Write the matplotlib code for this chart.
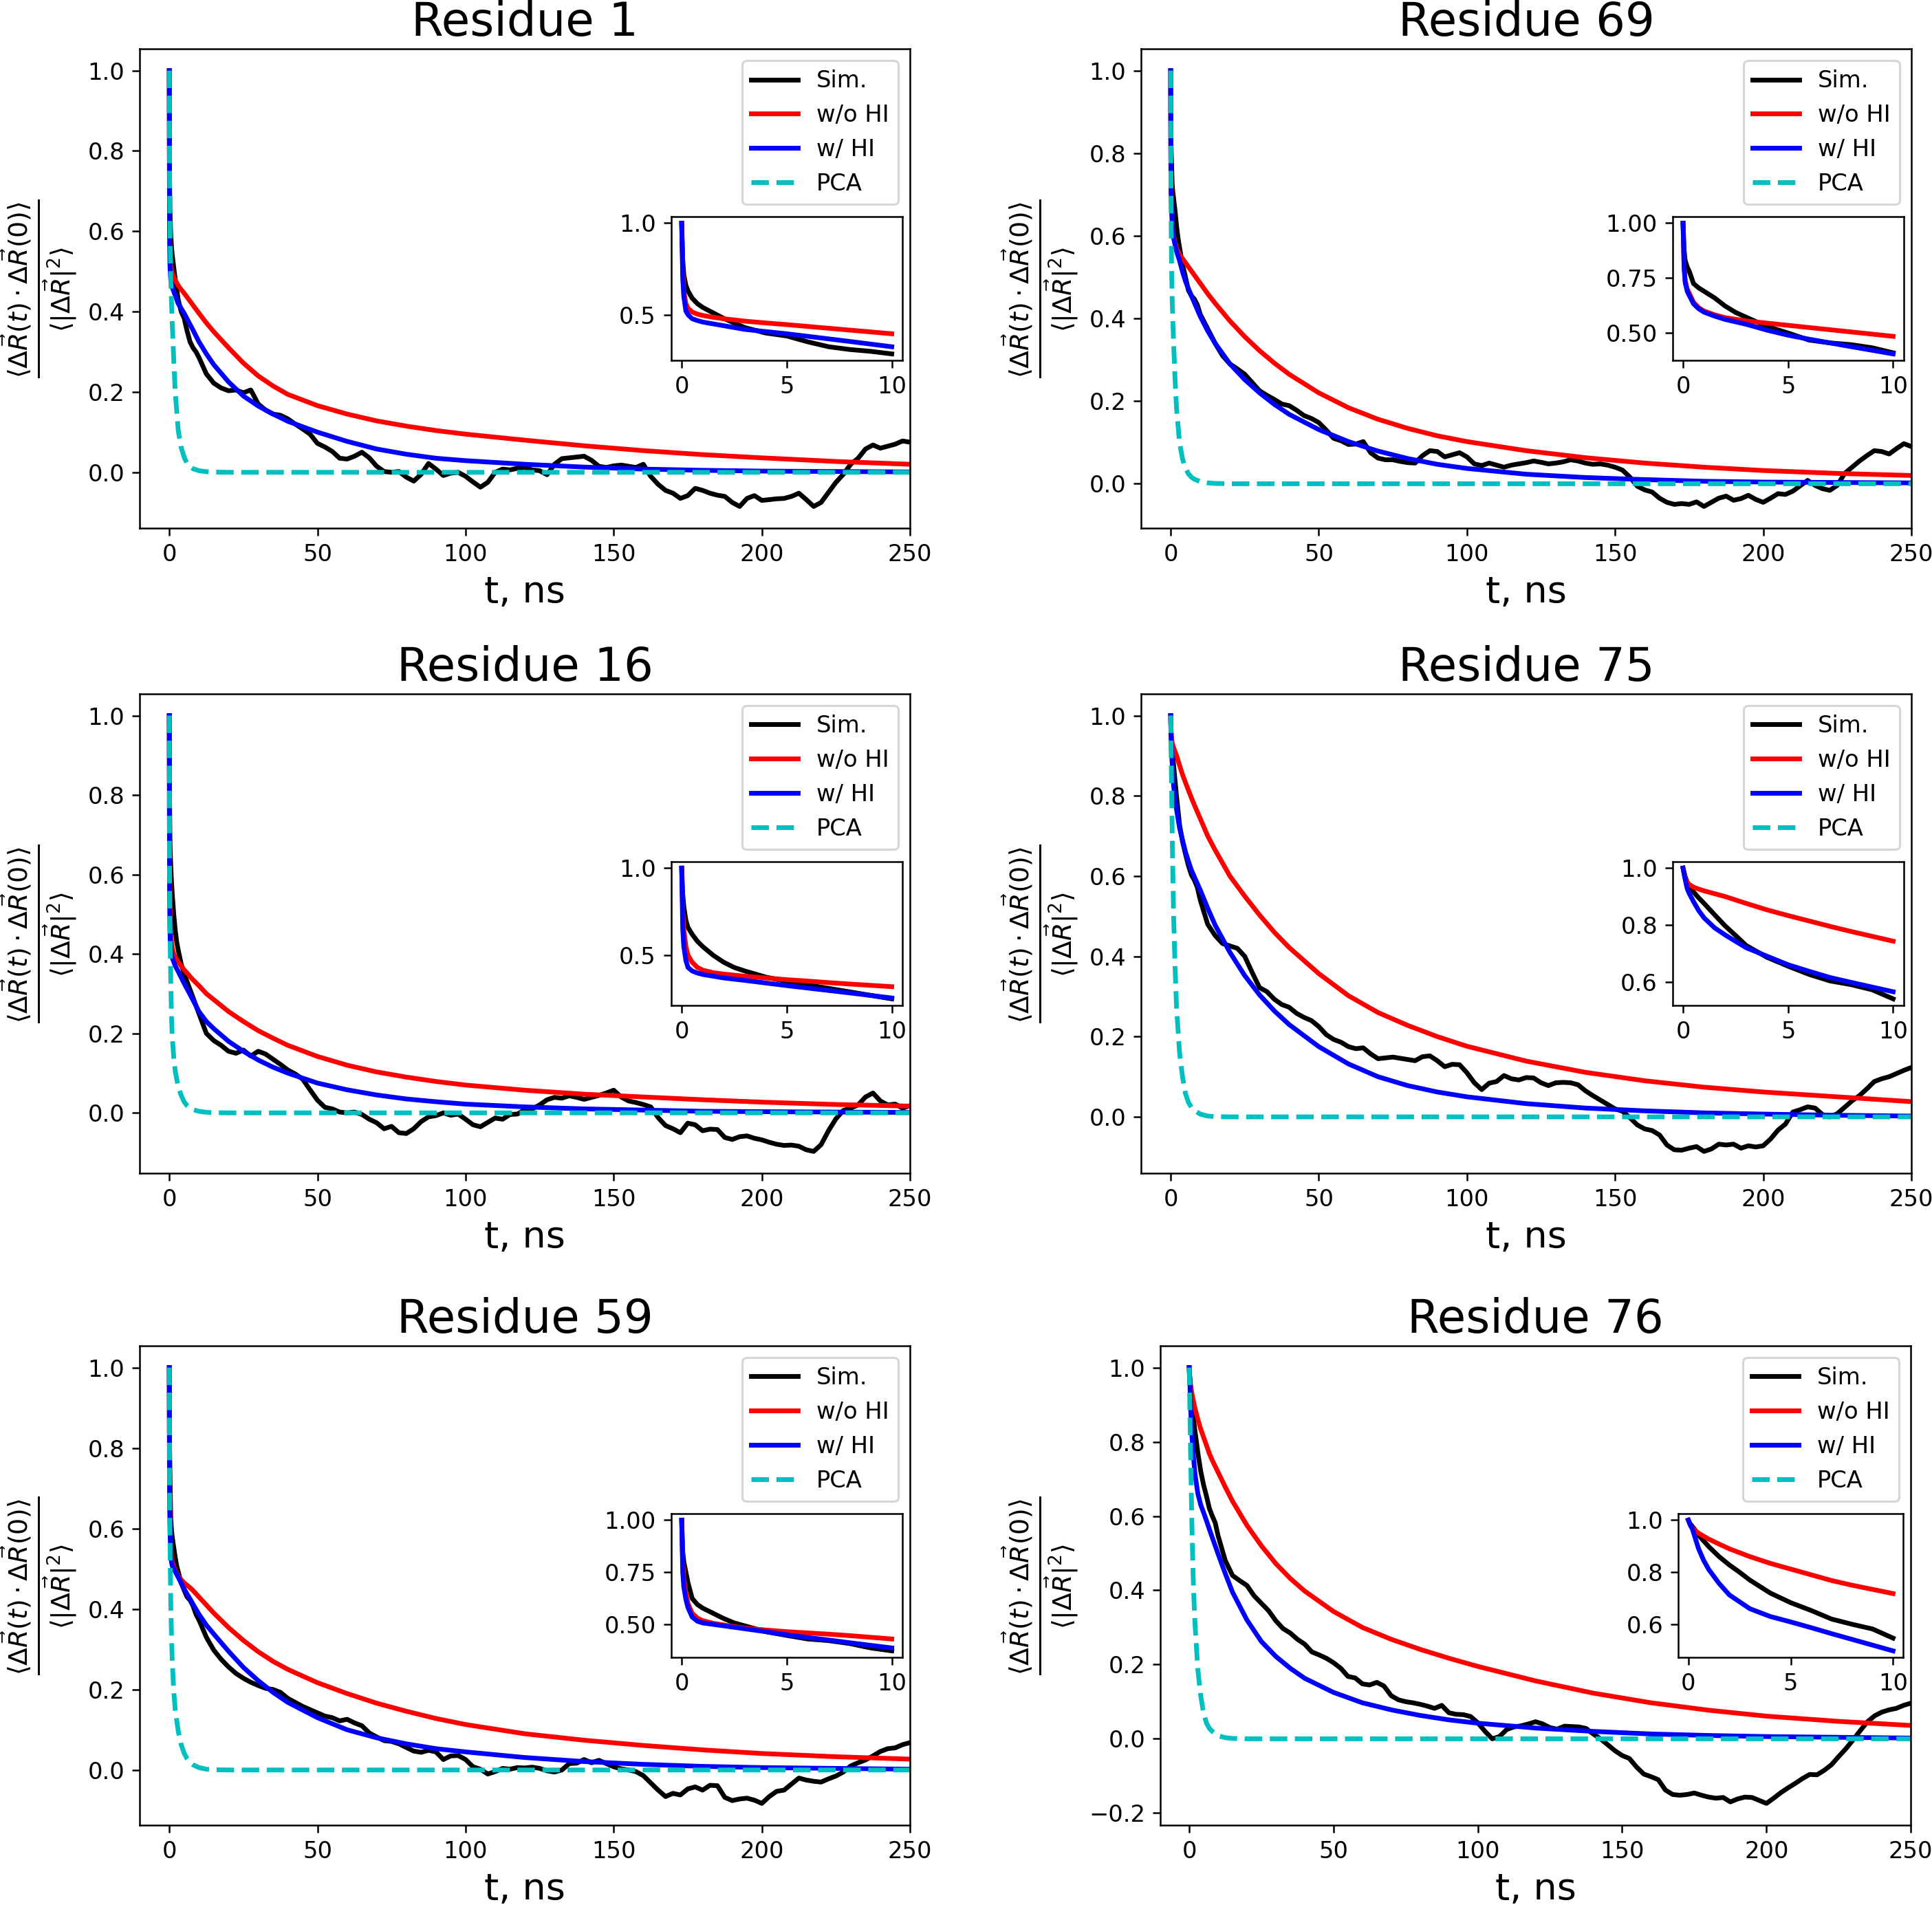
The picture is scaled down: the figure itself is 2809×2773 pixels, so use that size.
import numpy as np
import matplotlib.pyplot as plt

plt.rcParams['font.size'] = 10.8

# time grids (ns)
SIM_T = np.concatenate([[0, 0.05, 0.1, 0.2, 0.3, 0.5, 0.75, 1, 1.5, 2, 2.5, 3, 4, 5, 6, 7, 8, 9, 10],
                        np.arange(12.5, 252.5, 2.5)])
FIT_T = np.array([0, 0.05, 0.1, 0.2, 0.3, 0.5, 0.75, 1, 1.5, 2, 3, 4, 5, 6, 7, 8, 10, 12.5, 15,
                  20, 25, 30, 35, 40, 50, 60, 70, 80, 90, 100, 120, 140, 160, 180, 200, 225, 250])

RESIDUES = [1, 69, 16, 75, 59, 76]

# simulation curves (values on SIM_T)
SIM_R1 = [1.0, 0.80, 0.72, 0.66, 0.63, 0.59, 0.56, 0.54, 0.51, 0.48, 0.455, 0.43, 0.40, 0.384, 0.352, 0.325, 0.31, 0.30, 0.286,
          0.245, 0.222, 0.21, 0.203, 0.205, 0.198, 0.205, 0.17, 0.155, 0.145,
          0.142, 0.133, 0.12, 0.108, 0.095, 0.072, 0.063, 0.052, 0.035, 0.033,
          0.04, 0.05, 0.036, 0.015, 0.002, 0.0, 0.002, -0.012, -0.022, -0.005,
          0.022, 0.008, -0.008, -0.002, 0.0, -0.01, -0.024, -0.037, -0.025, 0.0,
          0.008, 0.006, 0.01, 0.012, 0.006, 0.004, -0.006, 0.02, 0.034, 0.036,
          0.038, 0.04, 0.03, 0.015, 0.012, 0.016, 0.018, 0.015, 0.012, 0.02,
          -0.01, -0.03, -0.045, -0.052, -0.065, -0.058, -0.04, -0.045, -0.052, -0.057,
          -0.06, -0.075, -0.085, -0.065, -0.058, -0.07, -0.068, -0.066, -0.065, -0.06,
          -0.052, -0.068, -0.085, -0.075, -0.05, -0.025, -0.005, 0.02, 0.035, 0.058,
          0.068, 0.06, 0.065, 0.07, 0.078, 0.075]
SIM_R69 = [1.0, 0.88, 0.83, 0.80, 0.78, 0.725, 0.705, 0.69, 0.66, 0.623, 0.594, 0.572, 0.53, 0.50, 0.468, 0.455, 0.447, 0.433, 0.41,
           0.375, 0.34, 0.31, 0.29, 0.278, 0.265, 0.245, 0.225, 0.214, 0.204,
           0.193, 0.189, 0.178, 0.165, 0.158, 0.148, 0.13, 0.11, 0.104, 0.095,
           0.096, 0.102, 0.075, 0.062, 0.058, 0.058, 0.054, 0.051, 0.05, 0.068,
           0.08, 0.078, 0.065, 0.07, 0.075, 0.065, 0.048, 0.044, 0.05, 0.045,
           0.04, 0.045, 0.048, 0.051, 0.055, 0.052, 0.048, 0.05, 0.053, 0.058,
           0.055, 0.05, 0.047, 0.048, 0.045, 0.04, 0.033, 0.016, -0.006, -0.015,
           -0.02, -0.035, -0.045, -0.05, -0.048, -0.05, -0.044, -0.055, -0.045, -0.035,
           -0.03, -0.04, -0.036, -0.028, -0.038, -0.045, -0.035, -0.024, -0.026, -0.018,
           -0.005, 0.008, -0.004, -0.012, -0.016, -0.004, 0.025, 0.04, 0.055, 0.068,
           0.08, 0.078, 0.072, 0.085, 0.097, 0.09]
SIM_R16 = [1.0, 0.85, 0.78, 0.70, 0.66, 0.62, 0.58, 0.55, 0.50, 0.46, 0.43, 0.41, 0.375, 0.35, 0.33, 0.31, 0.29, 0.27, 0.25,
           0.2, 0.182, 0.17, 0.155, 0.15, 0.158, 0.143, 0.155, 0.148, 0.135,
           0.122, 0.108, 0.098, 0.085, 0.058, 0.032, 0.014, 0.01, 0.002, 0.0,
           0.002, -0.004, -0.016, -0.025, -0.04, -0.034, -0.05, -0.052, -0.04, -0.022,
           -0.01, -0.007, 0.0, -0.006, -0.003, -0.016, -0.03, -0.035, -0.024, -0.013,
           -0.016, -0.004, -0.003, 0.008, 0.01, 0.02, 0.033, 0.039, 0.037, 0.043,
           0.039, 0.034, 0.039, 0.044, 0.05, 0.057, 0.04, 0.03, 0.026, 0.021,
           0.015, -0.012, -0.032, -0.04, -0.05, -0.026, -0.03, -0.045, -0.041, -0.042,
           -0.062, -0.067, -0.06, -0.058, -0.064, -0.068, -0.074, -0.079, -0.082, -0.081,
           -0.084, -0.093, -0.097, -0.08, -0.045, -0.015, 0.006, 0.012, 0.02, 0.04,
           0.05, 0.03, 0.02, 0.022, 0.012, 0.018]
SIM_R75 = [1.0, 0.985, 0.97, 0.95, 0.94, 0.916, 0.895, 0.876, 0.836, 0.797, 0.763, 0.728, 0.686, 0.655, 0.626, 0.603, 0.59, 0.572, 0.54,
           0.48, 0.452, 0.432, 0.426, 0.42, 0.4, 0.36, 0.322, 0.312, 0.293,
           0.28, 0.273, 0.258, 0.248, 0.24, 0.225, 0.205, 0.193, 0.186, 0.175,
           0.17, 0.172, 0.157, 0.145, 0.147, 0.149, 0.146, 0.143, 0.14, 0.15,
           0.152, 0.14, 0.125, 0.131, 0.13, 0.11, 0.085, 0.068, 0.084, 0.088,
           0.103, 0.095, 0.092, 0.098, 0.097, 0.085, 0.078, 0.085, 0.086, 0.085,
           0.08, 0.065, 0.053, 0.042, 0.031, 0.02, 0.014, -0.002, -0.02, -0.03,
           -0.034, -0.045, -0.07, -0.082, -0.083, -0.078, -0.074, -0.086, -0.08, -0.068,
           -0.07, -0.068, -0.078, -0.072, -0.075, -0.072, -0.055, -0.033, -0.018, 0.012,
           0.018, 0.025, 0.022, 0.006, 0.0, 0.008, 0.024, 0.04, 0.053, 0.07,
           0.088, 0.095, 0.1, 0.108, 0.116, 0.123]
SIM_R59 = [1.0, 0.85, 0.8, 0.75, 0.7, 0.624, 0.595, 0.578, 0.553, 0.528, 0.507, 0.493, 0.465, 0.447, 0.43, 0.422, 0.408, 0.387, 0.373,
           0.33, 0.298, 0.275, 0.256, 0.24, 0.228, 0.218, 0.21, 0.203, 0.2,
           0.193, 0.178, 0.168, 0.158, 0.15, 0.142, 0.134, 0.13, 0.122, 0.126,
           0.117, 0.11, 0.092, 0.082, 0.073, 0.071, 0.065, 0.056, 0.047, 0.044,
           0.049, 0.045, 0.026, 0.035, 0.036, 0.026, 0.008, 0.002, -0.01, -0.004,
           0.004, 0.002, 0.006, 0.005, 0.007, 0.004, -0.002, -0.005, 0.0, 0.016,
           0.017, 0.026, 0.018, 0.024, 0.016, 0.008, 0.003, 0.0, -0.004, -0.014,
           -0.032, -0.05, -0.066, -0.058, -0.062, -0.047, -0.042, -0.05, -0.038, -0.039,
           -0.068, -0.076, -0.072, -0.07, -0.075, -0.083, -0.066, -0.053, -0.05, -0.035,
           -0.02, -0.025, -0.028, -0.03, -0.022, -0.015, -0.005, 0.01, 0.018, 0.025,
           0.035, 0.046, 0.053, 0.055, 0.063, 0.068]
SIM_R76 = [1.0, 0.99, 0.985, 0.975, 0.965, 0.942, 0.92, 0.898, 0.86, 0.828, 0.8, 0.77, 0.72, 0.683, 0.653, 0.62, 0.6, 0.582, 0.547,
           0.48, 0.44, 0.426, 0.413, 0.385, 0.365, 0.345, 0.318, 0.297, 0.285,
           0.268, 0.255, 0.234, 0.226, 0.217, 0.205, 0.19, 0.168, 0.164, 0.148,
           0.145, 0.152, 0.142, 0.116, 0.105, 0.1, 0.097, 0.093, 0.088, 0.082,
           0.09, 0.07, 0.066, 0.065, 0.06, 0.043, 0.02, 0.0, 0.006, 0.025,
           0.032, 0.035, 0.04, 0.046, 0.04, 0.03, 0.026, 0.034, 0.033, 0.032,
           0.028, 0.013, 0.0, -0.016, -0.032, -0.045, -0.053, -0.076, -0.095, -0.102,
           -0.11, -0.138, -0.15, -0.152, -0.15, -0.146, -0.152, -0.157, -0.16, -0.158,
           -0.17, -0.162, -0.157, -0.158, -0.166, -0.174, -0.16, -0.145, -0.132, -0.12,
           -0.107, -0.096, -0.097, -0.085, -0.07, -0.048, -0.027, -0.003, 0.022, 0.046,
           0.062, 0.072, 0.078, 0.082, 0.09, 0.096]

# model without hydrodynamic interaction (values on FIT_T)
WO_HI_R1 = [1.0, 0.75, 0.63, 0.56, 0.535, 0.515, 0.503, 0.496, 0.486, 0.478, 0.465, 0.455, 0.446, 0.436, 0.426, 0.416, 0.396, 0.372, 0.35,
            0.31, 0.272, 0.24, 0.215, 0.194, 0.166, 0.145, 0.128, 0.115, 0.104, 0.095, 0.08, 0.066, 0.054, 0.044, 0.036, 0.027, 0.02]
WO_HI_R69 = [1.0, 0.8, 0.74, 0.70, 0.68, 0.64, 0.615, 0.60, 0.583, 0.57, 0.555, 0.545, 0.535, 0.525, 0.515, 0.505, 0.485, 0.46, 0.437,
             0.394, 0.356, 0.322, 0.292, 0.265, 0.22, 0.184, 0.156, 0.134, 0.116, 0.102, 0.08, 0.063, 0.05, 0.04, 0.032, 0.025, 0.02]
WO_HI_R16 = [1.0, 0.75, 0.65, 0.55, 0.5, 0.46, 0.43, 0.415, 0.40, 0.392, 0.38, 0.37, 0.36, 0.352, 0.343, 0.335, 0.32, 0.30, 0.285,
             0.255, 0.23, 0.207, 0.188, 0.17, 0.142, 0.12, 0.103, 0.09, 0.079, 0.07, 0.057, 0.047, 0.04, 0.033, 0.027, 0.021, 0.017]
WO_HI_R75 = [1.0, 0.98, 0.965, 0.95, 0.942, 0.933, 0.926, 0.92, 0.91, 0.90, 0.876, 0.853, 0.833, 0.814, 0.795, 0.777, 0.743, 0.70, 0.665,
             0.60, 0.55, 0.503, 0.46, 0.422, 0.357, 0.302, 0.26, 0.228, 0.20, 0.176, 0.139, 0.111, 0.09, 0.074, 0.062, 0.05, 0.038]
WO_HI_R59 = [1.0, 0.8, 0.72, 0.65, 0.6, 0.553, 0.53, 0.518, 0.505, 0.497, 0.482, 0.473, 0.465, 0.459, 0.453, 0.446, 0.43, 0.41, 0.39,
             0.354, 0.322, 0.294, 0.27, 0.25, 0.217, 0.19, 0.166, 0.146, 0.128, 0.113, 0.09, 0.074, 0.061, 0.05, 0.041, 0.033, 0.027]
WO_HI_R76 = [1.0, 0.99, 0.98, 0.97, 0.962, 0.95, 0.938, 0.927, 0.908, 0.89, 0.86, 0.834, 0.812, 0.79, 0.768, 0.75, 0.718, 0.678, 0.64,
             0.575, 0.52, 0.472, 0.432, 0.398, 0.343, 0.30, 0.268, 0.241, 0.217, 0.195, 0.156, 0.123, 0.097, 0.077, 0.061, 0.047, 0.036]

# model with hydrodynamic interaction (values on FIT_T)
W_HI_R1 = [1.0, 0.7, 0.6, 0.52, 0.5, 0.478, 0.468, 0.46, 0.45, 0.44, 0.42, 0.408, 0.396, 0.382, 0.368, 0.354, 0.325, 0.295, 0.268,
           0.225, 0.19, 0.165, 0.145, 0.127, 0.10, 0.077, 0.058, 0.045, 0.035, 0.029, 0.02, 0.013, 0.008, 0.005, 0.003, 0.002, 0.001]
W_HI_R69 = [1.0, 0.8, 0.73, 0.69, 0.67, 0.633, 0.61, 0.595, 0.577, 0.562, 0.54, 0.513, 0.49, 0.472, 0.455, 0.438, 0.405, 0.37, 0.34,
            0.29, 0.252, 0.22, 0.192, 0.168, 0.131, 0.102, 0.079, 0.061, 0.047, 0.037, 0.023, 0.015, 0.01, 0.006, 0.004, 0.003, 0.002]
W_HI_R16 = [1.0, 0.65, 0.55, 0.47, 0.43, 0.41, 0.398, 0.39, 0.38, 0.37, 0.356, 0.341, 0.326, 0.312, 0.298, 0.284, 0.255, 0.23, 0.212,
            0.18, 0.155, 0.133, 0.115, 0.1, 0.075, 0.058, 0.045, 0.035, 0.028, 0.022, 0.015, 0.01, 0.007, 0.004, 0.003, 0.002, 0.001]
W_HI_R75 = [1.0, 0.98, 0.96, 0.927, 0.91, 0.882, 0.85, 0.825, 0.79, 0.765, 0.72, 0.69, 0.66, 0.637, 0.615, 0.598, 0.565, 0.52, 0.478,
            0.41, 0.352, 0.304, 0.264, 0.23, 0.175, 0.132, 0.1, 0.078, 0.062, 0.05, 0.033, 0.022, 0.015, 0.01, 0.007, 0.004, 0.002]
W_HI_R59 = [1.0, 0.75, 0.68, 0.62, 0.58, 0.535, 0.515, 0.507, 0.5, 0.493, 0.479, 0.465, 0.45, 0.437, 0.425, 0.412, 0.387, 0.36, 0.338,
            0.295, 0.255, 0.222, 0.193, 0.168, 0.13, 0.1, 0.08, 0.065, 0.053, 0.045, 0.031, 0.021, 0.014, 0.009, 0.006, 0.004, 0.002]
W_HI_R76 = [1.0, 0.99, 0.98, 0.965, 0.94, 0.89, 0.845, 0.81, 0.757, 0.713, 0.66, 0.63, 0.609, 0.587, 0.564, 0.542, 0.498, 0.445, 0.395,
            0.32, 0.262, 0.222, 0.19, 0.163, 0.125, 0.097, 0.078, 0.063, 0.051, 0.042, 0.029, 0.02, 0.013, 0.009, 0.006, 0.004, 0.002]

# PCA curves (values on FIT_T)
ZEROS = [0.0] * 18
PCA_R1 = [1.0, 0.85, 0.75, 0.65, 0.57, 0.48, 0.42, 0.37, 0.28, 0.2, 0.105, 0.062, 0.038, 0.022, 0.014, 0.009, 0.004, 0.0015, 0.0005] + ZEROS
PCA_R69 = [1.0, 0.85, 0.72, 0.6, 0.53, 0.45, 0.39, 0.34, 0.25, 0.18, 0.10, 0.06, 0.038, 0.024, 0.016, 0.011, 0.005, 0.002, 0.0007] + ZEROS
PCA_R16 = [1.0, 0.75, 0.6, 0.48, 0.42, 0.33, 0.24, 0.19, 0.14, 0.105, 0.066, 0.044, 0.028, 0.018, 0.012, 0.008, 0.004, 0.0015, 0.0005] + ZEROS
PCA_R75 = [1.0, 0.97, 0.94, 0.88, 0.83, 0.72, 0.6, 0.5, 0.37, 0.27, 0.16, 0.1, 0.058, 0.036, 0.024, 0.016, 0.007, 0.002, 0.0007] + ZEROS
PCA_R59 = [1.0, 0.85, 0.74, 0.6, 0.52, 0.41, 0.33, 0.27, 0.195, 0.15, 0.097, 0.063, 0.042, 0.028, 0.019, 0.013, 0.006, 0.002, 0.0007] + ZEROS
PCA_R76 = [1.0, 0.98, 0.955, 0.9, 0.85, 0.76, 0.65, 0.55, 0.4, 0.31, 0.185, 0.115, 0.068, 0.042, 0.028, 0.02, 0.008, 0.003, 0.001] + ZEROS

SIM = [SIM_R1, SIM_R69, SIM_R16, SIM_R75, SIM_R59, SIM_R76]
WO_HI = [WO_HI_R1, WO_HI_R69, WO_HI_R16, WO_HI_R75, WO_HI_R59, WO_HI_R76]
W_HI = [W_HI_R1, W_HI_R69, W_HI_R16, W_HI_R75, W_HI_R59, W_HI_R76]
PCA = [PCA_R1, PCA_R69, PCA_R16, PCA_R75, PCA_R59, PCA_R76]

# axes positions [left, bottom, width, height] in figure fraction
AX_POS = [
    [0.0723, 0.7230, 0.3987, 0.2514],
    [0.5906, 0.7230, 0.3987, 0.2514],
    [0.0723, 0.3848, 0.3987, 0.2514],
    [0.5906, 0.3848, 0.3987, 0.2514],
    [0.0723, 0.0429, 0.3987, 0.2514],
    [0.6006, 0.0429, 0.3884, 0.2514],
]

YLABEL = r'$\frac{\langle \Delta \vec{R}(t) \cdot \Delta \vec{R}(0) \rangle}{\langle |\Delta \vec{R}|^2 \rangle}$'
LW = 2.2


def draw_panel(ax, res, sim, wo, w, pca):
    sim = np.array(sim)
    wo = np.array(wo)
    w = np.array(w)
    pca = np.array(pca)
    ax.plot(SIM_T, sim, color='k', lw=LW, label='Sim.')
    ax.plot(FIT_T, wo, color='r', lw=LW, label='w/o HI')
    ax.plot(FIT_T, w, color='b', lw=LW, label='w/ HI')
    ax.plot(FIT_T, pca, color='c', lw=LW, ls='--', label='PCA')
    ax.set_xlim(-10, 250)
    ax.set_title('Residue %d' % res, fontsize=21.5)
    ax.set_xlabel('t, ns', fontsize=17.3)
    ax.set_ylabel(YLABEL, fontsize=17.3)
    ax.legend(loc='upper right')

    # zoom on the first 10 ns
    ins = ax.inset_axes([0.69, 0.35, 0.30, 0.30])
    ms = SIM_T <= 10
    mf = FIT_T <= 10
    ins.plot(SIM_T[ms], sim[ms], color='k', lw=LW)
    ins.plot(FIT_T[mf], wo[mf], color='r', lw=LW)
    ins.plot(FIT_T[mf], w[mf], color='b', lw=LW)


fig = plt.figure(figsize=(2809 / 225, 2773 / 225), dpi=225)
for i, res in enumerate(RESIDUES):
    ax = fig.add_axes(AX_POS[i])
    draw_panel(ax, res, SIM[i], WO_HI[i], W_HI[i], PCA[i])

fig.savefig('out.png', dpi=225)
